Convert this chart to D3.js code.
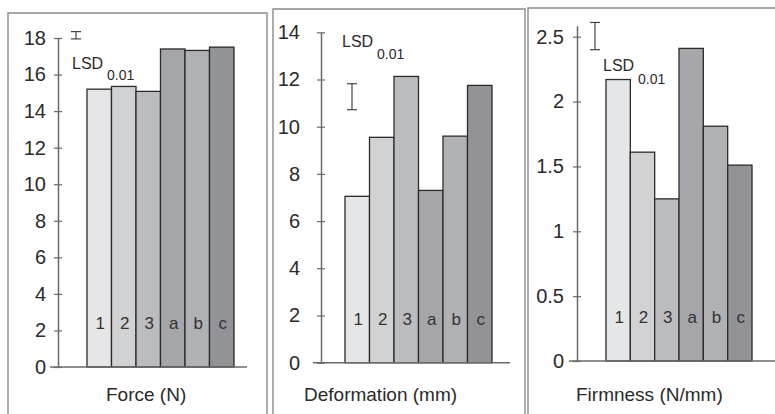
<!DOCTYPE html>
<html>
<head>
<meta charset="utf-8">
<script src="https://cdn.jsdelivr.net/npm/d3@7"></script>
<style>
  body { margin: 0; background: #fff; }
  text { font-family: 'Liberation Sans', Arial, sans-serif; fill: #2a2a2a; }
</style>
</head>
<body>
<svg width="775" height="414"></svg>
<script>
const categories = ['1', '2', '3', 'a', 'b', 'c']

const forceValues = [15.2, 15.35, 15.08, 17.4, 17.32, 17.5]
const deformationValues = [7.05, 9.55, 12.13, 7.3, 9.6, 11.75]
const firmnessValues = [2.17, 1.61, 1.25, 2.41, 1.81, 1.51]

const forceTicks = [0, 2, 4, 6, 8, 10, 12, 14, 16, 18]
const deformationTicks = [0, 2, 4, 6, 8, 10, 12, 14]
const firmnessTicks = [0, 0.5, 1, 1.5, 2, 2.5]

// LSD 0.01 bars: [low, high]
const forceLsd = [17.95, 18.35]
const deformationLsd = [10.72, 11.82]
const firmnessLsd = [2.4, 2.61]

const titles = ['Force (N)', 'Deformation (mm)', 'Firmness (N/mm)']

const barColors = ['#e5e6e8', '#d1d2d4', '#bbbcbf', '#a5a6a9', '#b0b1b4', '#929396']

const svg = d3.select('svg')

// layout of each panel (pixels)
const panels = [
  {
    values: forceValues, ticks: forceTicks, lsd: forceLsd, title: titles[0],
    box: [8, 13, 267], axisX: 58, y0: 367, yTop: 38, max: 18, pad: 8,
    bars: [87, 234], xEnd: 247, lsdX: 76, lsdText: [72, 69], subText: [107, 80], titleX: 106
  },
  {
    values: deformationValues, ticks: deformationTicks, lsd: deformationLsd, title: titles[1],
    box: [273, 9, 525], axisX: 321, y0: 362.7, yTop: 32.3, max: 14, pad: 17,
    bars: [345, 492], xEnd: 510, lsdX: 352, lsdText: [342, 47], subText: [377, 59], titleX: 304
  },
  {
    values: firmnessValues, ticks: firmnessTicks, lsd: firmnessLsd, title: titles[2],
    box: [528, 8, 790], axisX: 577, y0: 361, yTop: 25.7, max: 2.585, pad: 9,
    bars: [606, 752], xEnd: 775, lsdX: 595, lsdText: [603, 71], subText: [638, 84], titleX: 576
  }
]

panels.forEach(function(p) {
  const g = svg.append('g')

  // frame
  g.append('path')
    .attr('d', `M${p.box[0]},420 V${p.box[1]} H${p.box[2]} V420`)
    .attr('fill', 'none')
    .attr('stroke', '#8a8a8a')
    .attr('stroke-width', 1.4)

  const y = d3.scaleLinear().domain([0, p.max]).range([p.y0, p.yTop])
  const x = d3.scaleBand().domain(categories).range(p.bars).padding(0)

  g.selectAll('rect')
    .data(p.values)
    .enter()
    .append('rect')
    .attr('x', (d, i) => x(categories[i]))
    .attr('y', d => y(d))
    .attr('width', x.bandwidth())
    .attr('height', d => y(0) - y(d))
    .attr('fill', (d, i) => barColors[i])
    .attr('stroke', '#2b2b2b')
    .attr('stroke-width', 1.3)

  g.selectAll('.bar-label')
    .data(categories)
    .enter()
    .append('text')
    .attr('class', 'bar-label')
    .attr('x', d => x(d) + x.bandwidth() / 2 + 1)
    .attr('y', y(0) - 38)
    .attr('text-anchor', 'middle')
    .attr('font-size', 17)
    .style('fill', '#333')
    .text(d => d)

  // x axis line
  g.append('line')
    .attr('x1', p.axisX - 8)
    .attr('x2', p.xEnd)
    .attr('y1', y(0))
    .attr('y2', y(0))
    .attr('stroke', '#6a6a6a')
    .attr('stroke-width', 1.5)

  const axis = g.append('g')
    .attr('transform', `translate(${p.axisX},0)`)
    .call(d3.axisLeft(y).tickValues(p.ticks).tickSizeOuter(0).tickSizeInner(4).tickPadding(p.pad).tickFormat(d3.format('')))

  axis.select('.domain').attr('stroke', '#6a6a6a').attr('stroke-width', 1.5)
  axis.selectAll('.tick line').attr('x1', -4).attr('x2', 4).attr('stroke', '#6a6a6a').attr('stroke-width', 1.2)
  axis.selectAll('.tick text')
    .attr('font-size', 20)
    .attr('font-family', "'Liberation Sans', Arial, sans-serif")
    .style('fill', '#2a2a2a')

  // LSD bar
  const lsd = g.append('g').attr('stroke', '#444').attr('stroke-width', 1.2)
  lsd.append('line').attr('x1', p.lsdX).attr('x2', p.lsdX).attr('y1', y(p.lsd[0])).attr('y2', y(p.lsd[1]))
  lsd.append('line').attr('x1', p.lsdX - 5).attr('x2', p.lsdX + 5).attr('y1', y(p.lsd[0])).attr('y2', y(p.lsd[0]))
  lsd.append('line').attr('x1', p.lsdX - 5).attr('x2', p.lsdX + 5).attr('y1', y(p.lsd[1])).attr('y2', y(p.lsd[1]))

  g.append('text')
    .attr('x', p.lsdText[0])
    .attr('y', p.lsdText[1])
    .attr('font-size', 16)
    .text('LSD')
  g.append('text')
    .attr('x', p.subText[0])
    .attr('y', p.subText[1])
    .attr('font-size', 14)
    .text('0.01')

  g.append('text')
    .attr('x', p.titleX)
    .attr('y', 401)
    .attr('font-size', 19)
    .text(p.title)
})
</script>
</body>
</html>
